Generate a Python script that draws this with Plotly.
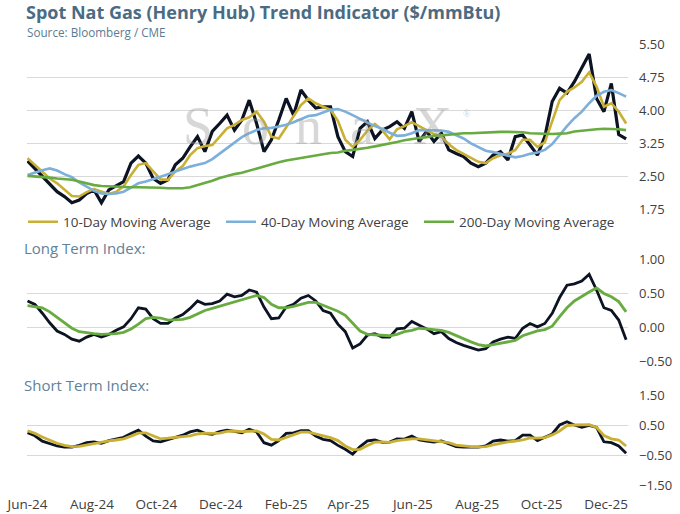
import pandas as pd
import plotly.graph_objects as go

# weekly readings, 2024-06-01 .. 2025-12-20
dates = pd.date_range("2024-06-01", periods=82, freq="7D")

spot_price = [
    2.85, 2.68, 2.49, 2.34, 2.15, 2.04, 1.90, 1.96, 2.11, 2.19,
    1.90, 2.19, 2.28, 2.38, 2.80, 2.96, 2.80, 2.45, 2.34, 2.42,
    2.76, 2.91, 3.17, 3.40, 3.06, 3.52, 3.70, 3.89, 3.55, 3.78,
    4.23, 3.70, 3.06, 3.33, 3.78, 4.27, 3.89, 4.46, 4.23, 4.05,
    4.08, 4.08, 3.40, 3.06, 2.95, 3.59, 3.74, 3.36, 3.55, 3.63,
    3.74, 3.59, 3.97, 3.29, 3.52, 3.29, 3.48, 3.10, 3.02, 2.95,
    2.80, 2.72, 2.80, 2.98, 3.06, 2.87, 3.40, 3.44, 3.21, 2.98,
    3.40, 4.20, 4.50, 4.39, 4.65, 4.95, 5.28, 4.27, 3.97, 4.61,
    3.45, 3.35,
]
ma_10 = [
    2.91, 2.76, 2.61, 2.45, 2.34, 2.19, 2.05, 2.04, 2.14, 2.21,
    2.15, 2.10, 2.15, 2.27, 2.53, 2.76, 2.80, 2.61, 2.43, 2.42,
    2.61, 2.73, 2.98, 3.14, 3.19, 3.21, 3.40, 3.59, 3.67, 3.78,
    3.84, 3.97, 3.74, 3.40, 3.36, 3.61, 3.89, 4.12, 4.27, 4.16,
    4.08, 4.01, 3.76, 3.33, 3.17, 3.33, 3.54, 3.69, 3.55, 3.34,
    3.57, 3.64, 3.73, 3.64, 3.54, 3.46, 3.40, 3.23, 3.10, 3.01,
    2.93, 2.83, 2.80, 2.91, 2.98, 3.01, 3.10, 3.33, 3.33, 3.17,
    3.27, 3.74, 4.23, 4.42, 4.52, 4.65, 4.86, 4.54, 4.08, 4.16,
    3.97, 3.70,
]
ma_40 = [
    2.53, 2.59, 2.64, 2.68, 2.63, 2.55, 2.48, 2.36, 2.27, 2.17,
    2.11, 2.10, 2.11, 2.15, 2.24, 2.34, 2.38, 2.43, 2.49, 2.55,
    2.61, 2.67, 2.72, 2.76, 2.80, 2.89, 3.01, 3.14, 3.27, 3.39,
    3.48, 3.55, 3.59, 3.60, 3.63, 3.67, 3.73, 3.80, 3.87, 3.89,
    3.95, 4.01, 4.03, 3.97, 3.89, 3.80, 3.72, 3.64, 3.58, 3.49,
    3.42, 3.43, 3.48, 3.55, 3.55, 3.55, 3.54, 3.51, 3.44, 3.36,
    3.25, 3.16, 3.08, 3.05, 3.01, 2.96, 2.93, 2.96, 3.01, 3.04,
    3.10, 3.23, 3.44, 3.64, 3.82, 3.97, 4.16, 4.33, 4.42, 4.46,
    4.39, 4.31,
]
ma_200 = [
    2.51, 2.50, 2.48, 2.47, 2.45, 2.44, 2.42, 2.38, 2.34, 2.30,
    2.28, 2.27, 2.26, 2.25, 2.25, 2.25, 2.25, 2.24, 2.24, 2.23,
    2.23, 2.23, 2.25, 2.30, 2.34, 2.40, 2.46, 2.51, 2.55, 2.58,
    2.63, 2.67, 2.72, 2.77, 2.82, 2.86, 2.89, 2.92, 2.95, 2.98,
    3.00, 3.03, 3.04, 3.08, 3.10, 3.12, 3.15, 3.18, 3.21, 3.24,
    3.28, 3.32, 3.35, 3.37, 3.39, 3.42, 3.43, 3.45, 3.46, 3.48,
    3.48, 3.49, 3.50, 3.51, 3.51, 3.51, 3.51, 3.50, 3.48, 3.47,
    3.46, 3.46, 3.47, 3.48, 3.52, 3.54, 3.55, 3.57, 3.58, 3.58,
    3.57, 3.55,
]
long_index = [
    0.39, 0.34, 0.21, 0.07, -0.05, -0.10, -0.17, -0.20, -0.14, -0.10,
    -0.14, -0.10, -0.04, 0.01, 0.13, 0.29, 0.27, 0.13, 0.06, 0.06,
    0.14, 0.19, 0.28, 0.39, 0.34, 0.35, 0.39, 0.49, 0.45, 0.47,
    0.55, 0.52, 0.30, 0.13, 0.14, 0.30, 0.34, 0.43, 0.47, 0.39,
    0.25, 0.21, 0.05, -0.06, -0.30, -0.24, -0.11, -0.09, -0.14, -0.14,
    -0.02, -0.01, 0.09, 0.04, -0.02, -0.09, -0.06, -0.16, -0.22, -0.26,
    -0.29, -0.33, -0.31, -0.21, -0.17, -0.14, -0.16, -0.01, 0.06, 0.01,
    0.06, 0.21, 0.44, 0.62, 0.64, 0.68, 0.78, 0.55, 0.29, 0.25,
    0.11, -0.18,
]
long_signal = [
    0.32, 0.31, 0.29, 0.23, 0.15, 0.06, -0.01, -0.06, -0.08, -0.09,
    -0.10, -0.10, -0.09, -0.07, -0.02, 0.05, 0.13, 0.15, 0.14, 0.11,
    0.11, 0.12, 0.15, 0.20, 0.25, 0.28, 0.31, 0.34, 0.38, 0.41,
    0.44, 0.47, 0.44, 0.34, 0.29, 0.29, 0.31, 0.34, 0.37, 0.37,
    0.33, 0.29, 0.24, 0.18, 0.06, -0.05, -0.10, -0.11, -0.12, -0.12,
    -0.10, -0.06, -0.04, -0.01, -0.02, -0.03, -0.04, -0.07, -0.12, -0.17,
    -0.21, -0.25, -0.27, -0.25, -0.23, -0.21, -0.19, -0.12, -0.08, -0.05,
    -0.03, 0.02, 0.16, 0.29, 0.39, 0.46, 0.52, 0.58, 0.50, 0.45,
    0.38, 0.23,
]
short_index = [
    0.24, 0.14, -0.04, -0.13, -0.20, -0.24, -0.24, -0.18, -0.09, -0.06,
    -0.11, -0.02, 0.03, 0.09, 0.22, 0.33, 0.13, -0.03, -0.06, 0.02,
    0.09, 0.16, 0.27, 0.33, 0.22, 0.19, 0.28, 0.33, 0.29, 0.24,
    0.36, 0.27, -0.09, -0.17, -0.02, 0.22, 0.24, 0.31, 0.31, 0.13,
    0.02, -0.02, -0.18, -0.31, -0.47, -0.22, -0.03, 0.00, -0.08, -0.07,
    0.04, 0.03, 0.13, 0.00, -0.04, -0.07, -0.03, -0.13, -0.22, -0.24,
    -0.24, -0.24, -0.20, -0.04, 0.00, -0.04, -0.02, 0.16, 0.16, -0.02,
    0.09, 0.20, 0.50, 0.61, 0.50, 0.42, 0.49, 0.42, -0.06, -0.09,
    -0.20, -0.44,
]
short_signal = [
    0.31, 0.22, 0.10, 0.00, -0.11, -0.18, -0.22, -0.21, -0.16, -0.11,
    -0.07, -0.03, 0.00, 0.04, 0.13, 0.23, 0.24, 0.13, 0.04, 0.06,
    0.09, 0.11, 0.14, 0.20, 0.23, 0.22, 0.23, 0.29, 0.30, 0.28,
    0.29, 0.30, 0.20, 0.02, 0.00, 0.09, 0.18, 0.26, 0.26, 0.20,
    0.13, 0.08, -0.02, -0.20, -0.32, -0.31, -0.18, -0.07, -0.06, -0.08,
    -0.02, 0.02, 0.04, 0.04, 0.01, -0.02, -0.04, -0.09, -0.17, -0.20,
    -0.22, -0.23, -0.22, -0.16, -0.10, -0.06, -0.04, 0.00, 0.07, 0.06,
    0.08, 0.17, 0.30, 0.48, 0.50, 0.50, 0.51, 0.42, 0.15, 0.04,
    0.00, -0.20,
]

price_ticks = [1.75, 2.50, 3.25, 4.00, 4.75, 5.50]
long_ticks = [-0.50, 0.00, 0.50, 1.00]
short_ticks = [-1.50, -0.50, 0.50, 1.50]

W, H = 680, 514
FONT = "Open Sans"
BLACK = "#0c1322"
GOLD = "#c9b034"
BLUE = "#7cafda"
GREEN = "#68ab40"
GRID = "#d9d9d9"
TEXT = "#404040"


def px_x(x):
    return x / W


def px_y(y):
    return 1 - y / H


fig = go.Figure()

# top panel: price + moving averages
fig.add_trace(go.Scatter(x=dates, y=spot_price, mode="lines", xaxis="x2", yaxis="y",
                         line=dict(color=BLACK, width=3.2), showlegend=False))
fig.add_trace(go.Scatter(x=dates, y=ma_10, mode="lines", xaxis="x2", yaxis="y",
                         name="10-Day Moving Average", line=dict(color=GOLD, width=2.6)))
fig.add_trace(go.Scatter(x=dates, y=ma_40, mode="lines", xaxis="x2", yaxis="y",
                         name="40-Day Moving Average", line=dict(color=BLUE, width=2.6)))
fig.add_trace(go.Scatter(x=dates, y=ma_200, mode="lines", xaxis="x2", yaxis="y",
                         name="200-Day Moving Average", line=dict(color=GREEN, width=2.6)))

# long term index
fig.add_trace(go.Scatter(x=dates, y=long_index, mode="lines", xaxis="x3", yaxis="y2",
                         line=dict(color=BLACK, width=2.8), showlegend=False))
fig.add_trace(go.Scatter(x=dates, y=long_signal, mode="lines", xaxis="x3", yaxis="y2",
                         line=dict(color=GREEN, width=2.8), showlegend=False))

# short term index
fig.add_trace(go.Scatter(x=dates, y=short_index, mode="lines", xaxis="x", yaxis="y3",
                         line=dict(color=BLACK, width=2.8), showlegend=False))
fig.add_trace(go.Scatter(x=dates, y=short_signal, mode="lines", xaxis="x", yaxis="y3",
                         line=dict(color=GOLD, width=2.8), showlegend=False))

x_dom = [px_x(27), px_x(628)]
x_range = ["2024-05-31 12:00", "2025-12-21 19:00"]
x_common = dict(domain=x_dom, range=x_range, showgrid=False, zeroline=False,
                showline=False, ticks="", automargin=False)

y_common = dict(side="right", showgrid=True, gridcolor=GRID, gridwidth=1,
                zeroline=False, showline=False, ticks="", tickformat=".2f",
                automargin=False, ticklabelstandoff=10,
                tickfont=dict(family=FONT, size=13, color=TEXT))

annotations = [
    dict(text="<b>Spot Nat Gas (Henry Hub) Trend Indicator ($/mmBtu)</b>",
         x=px_x(24), y=px_y(12.3), font=dict(family=FONT, size=18, color="#4b6b83")),
    dict(text="Source: Bloomberg / CME", x=px_x(25), y=px_y(32),
         font=dict(family=FONT, size=11.7, color="#5a7b93")),
    dict(text="Long Term Index:", x=px_x(22), y=px_y(247.5),
         font=dict(family=FONT, size=15, color="#5f8199")),
    dict(text="Short Term Index:", x=px_x(22), y=px_y(385),
         font=dict(family=FONT, size=15, color="#5f8199")),
]
for ann in annotations:
    ann.update(xref="paper", yref="paper", xanchor="left", yanchor="middle",
               showarrow=False)

# faint watermark behind the price panel
for letter, cx in [("S", 198), ("o", 255), ("n", 308), ("a", 362), ("X", 432)]:
    annotations.append(dict(text=letter, x=px_x(cx), y=px_y(126), xref="paper", yref="paper",
                            xanchor="center", yanchor="middle", showarrow=False,
                            font=dict(family="Liberation Serif", size=54,
                                      color="rgba(150,150,150,0.38)")))
annotations.append(dict(text="®", x=px_x(467), y=px_y(113), xref="paper", yref="paper",
                        xanchor="center", yanchor="middle", showarrow=False,
                        font=dict(family="Liberation Serif", size=10,
                                  color="rgba(150,150,150,0.45)")))

fig.update_layout(
    width=W,
    height=H,
    margin=dict(l=0, r=0, t=0, b=0, autoexpand=False),
    paper_bgcolor="white",
    plot_bgcolor="white",
    font=dict(family=FONT, color=TEXT),
    xaxis=dict(**x_common, anchor="y3", tick0="2024-06-01", dtick="M2",
               tickformat="%b-%y", ticklabelstandoff=9, ticklabeloverflow="allow",
               tickfont=dict(family=FONT, size=13.5, color=TEXT)),
    xaxis2=dict(**x_common, anchor="y", matches="x", showticklabels=False),
    xaxis3=dict(**x_common, anchor="y2", matches="x", showticklabels=False),
    yaxis=dict(**y_common, anchor="x2", domain=[px_y(209.3), px_y(44.3)],
               range=[1.75, 5.5], tickvals=price_ticks),
    yaxis2=dict(**y_common, anchor="x3", domain=[px_y(361.7), px_y(259.3)],
                range=[-0.5, 1.0], tickvals=long_ticks),
    yaxis3=dict(**y_common, anchor="x", domain=[px_y(485), px_y(395)],
                range=[-1.5, 1.5], tickvals=short_ticks),
    legend=dict(orientation="h", x=px_x(23), y=px_y(222), xanchor="left", yanchor="middle",
                entrywidth=153, entrywidthmode="pixels", bgcolor="rgba(0,0,0,0)",
                font=dict(family=FONT, size=13.5, color=TEXT), itemwidth=30),
    annotations=annotations,
)

# drop the browser's default 8px page margin so the figure sits at the window corner
fig.write_html("out.html", config={"displayModeBar": False},
               post_script="document.body.style.margin = '0';")
